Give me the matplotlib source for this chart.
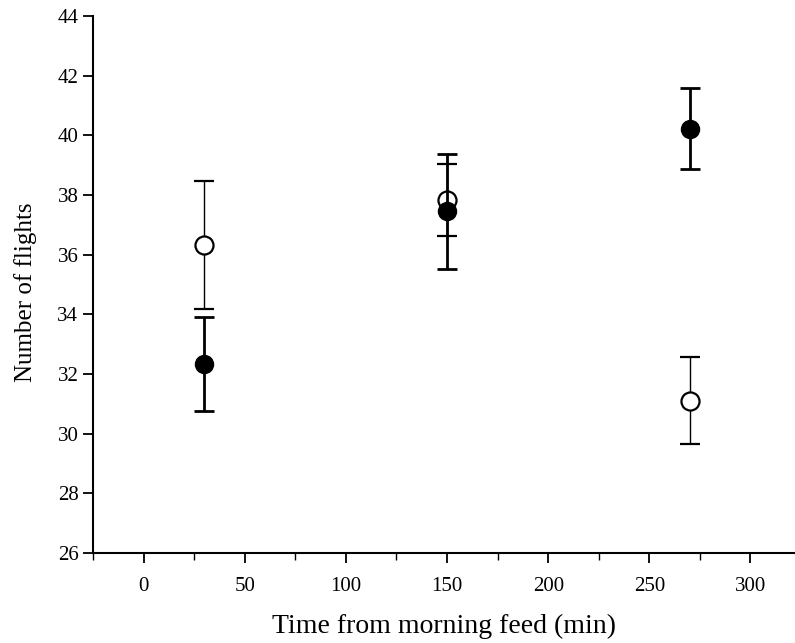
import matplotlib
matplotlib.use('Agg')
import matplotlib.pyplot as plt
from matplotlib.ticker import MultipleLocator

plt.rcParams['font.family'] = 'Liberation Serif'

# time from morning feed (min)
times = [30, 150, 270]

# open circles
open_mean = [36.32, 37.83, 31.10]
open_err = [2.15, 1.21, 1.46]

# filled circles
filled_mean = [32.33, 37.45, 40.23]
filled_err = [1.58, 1.93, 1.35]

fig = plt.figure(figsize=(7.95, 6.43), dpi=100)
ax = fig.add_axes([0.117, 0.140, 0.883, 0.835])

ax.errorbar(times, open_mean, yerr=open_err, fmt='o', color='black',
            mfc='white', mec='black', mew=1.6, ms=13, elinewidth=1.0,
            capsize=7.5, capthick=1.0, zorder=3)
ax.errorbar(times, filled_mean, yerr=filled_err, fmt='o', color='black',
            mfc='black', mec='black', ms=13, elinewidth=2.0,
            capsize=7.5, capthick=2.0, zorder=4)

ax.set_xlim(-25, 322)
ax.set_ylim(26, 44)
ax.xaxis.set_major_locator(MultipleLocator(50))
ax.xaxis.set_minor_locator(MultipleLocator(25))
ax.yaxis.set_major_locator(MultipleLocator(2))

ax.spines['top'].set_visible(False)
ax.spines['right'].set_visible(False)
ax.spines['left'].set_linewidth(1.5)
ax.spines['bottom'].set_linewidth(1.5)
ax.tick_params(which='major', direction='out', length=7, width=1.3,
               labelsize=15)
ax.tick_params(which='minor', direction='out', length=5, width=1.0)
ax.tick_params(axis='x', pad=10)

ax.set_xlabel('Time from morning feed (min)', fontsize=20, labelpad=13)
ax.set_ylabel('Number of flights', fontsize=18)
ax.yaxis.set_label_coords(-0.080, 0.486)

fig.savefig('out.png', dpi=100)
